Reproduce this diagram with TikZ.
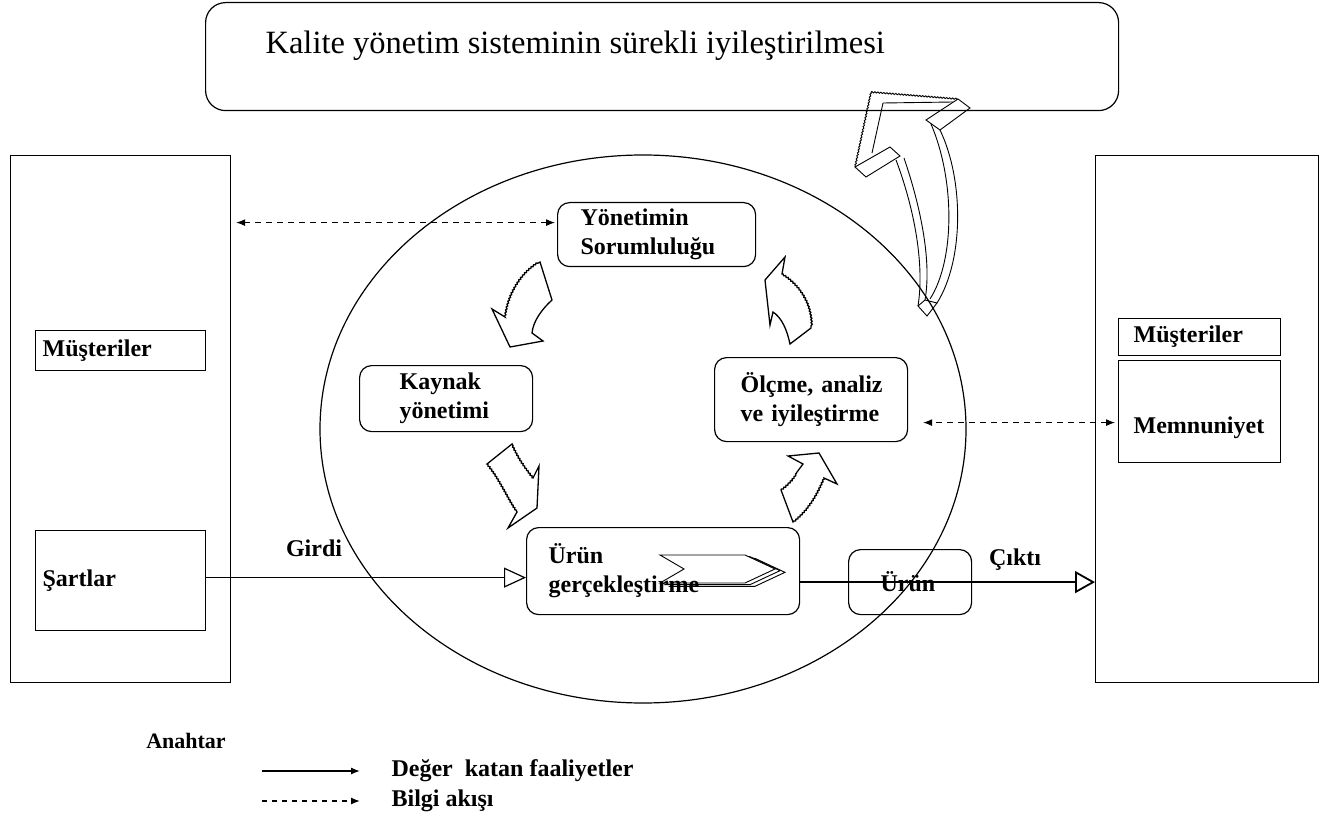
\documentclass[tikz,border=0pt]{standalone}
\usepackage{fontspec}
\setmainfont{Liberation Serif}
\usetikzlibrary{arrows.meta,calc,decorations.pathmorphing}

\begin{document}
\begin{tikzpicture}[x=1pt,y=-1pt,line width=1.2pt,
                    >={Latex[length=9pt,width=7pt]}]
  \tikzstyle{panel}=[draw,rectangle,anchor=north west,inner sep=0pt]
  \tikzstyle{flat}=[draw,rectangle,anchor=north west,align=left,inner ysep=0pt,
                    font=\fontsize{24}{29}\selectfont\bfseries]
  \tikzstyle{place}=[flat,rounded corners=12pt]
  \tikzstyle{lbl}=[font=\fontsize{24}{29}\selectfont\bfseries,inner sep=0pt]
  \tikzstyle{info}=[<->,dash pattern=on 6pt off 5pt,line width=1pt]
  \tikzstyle{wavy}=[decoration={snake,amplitude=0.6pt,segment length=3pt}]
  \tikzstyle{cyc}=[line width=1.3pt,line join=miter]

  \useasboundingbox (0,0) rectangle (1322,818);

  % top box
  \node[place,rounded corners=20pt,minimum width=913pt,minimum height=108pt] (kys) at (205,2) {};
  \node[font=\fontsize{32.5}{36}\selectfont,anchor=west,inner sep=0pt] (title) at (265,46)
       {Kalite yönetim sisteminin sürekli iyileştirilmesi};

  % side panels
  \node[panel,minimum width=220pt,minimum height=527pt] (left) at (10,155) {};
  \node[panel,minimum width=223pt,minimum height=527pt] (right) at (1095,155) {};

  \node[flat,text width=156pt,inner xsep=7pt,minimum height=40pt] (must1) at (35,330) {Müşteriler};
  \node[flat,text width=156pt,inner xsep=7pt,minimum height=100pt] (sart) at (35,530) {Şartlar};
  \node[flat,text width=132pt,inner xsep=15pt,minimum height=37pt] (must2) at (1118,318) {Müşteriler};
  \node[flat,text width=132pt,inner xsep=15pt,minimum height=102pt,text height=44pt,text depth=0pt]
       (memn) at (1118,360) {Memnuniyet};

  \draw (643,429) ellipse [x radius=323pt,y radius=274pt];

  % chevrons
  \foreach \d in {10,5,0}
    \draw[fill=white,line width=0.9pt] (660+\d,555+\d/3) -- ++(85,0) -- ++(30,14)
         -- ++(-30,14) -- ++(-85,0) -- ++(24,-14) -- cycle;

  % process boxes
  \node[place,text width=229pt,inner xsep=22pt,minimum height=87pt] (urun) at (526,527) {Ürün\\gerçekleştirme};
  \node[place,text width=152pt,inner xsep=23pt,minimum height=64pt] (yon) at (557,202) {Yönetimin\\Sorumluluğu};
  \node[place,text width=93pt,inner xsep=40pt,minimum height=66pt] (kay) at (359,365) {Kaynak\\yönetimi};
  \node[place,text width=141pt,inner xsep=26pt,minimum height=84pt] (olc) at (714,357) {Ölçme,~analiz\\ve~iyileştirme};
  \node[place,text width=59pt,inner xsep=32pt,minimum height=65pt] (urk) at (848,549) {Ürün};

  % cycle arrows
  \draw[cyc] (540,262) -- (552,300) .. controls (541,310) and (533,322) .. (532,333) -- (543,341)
       -- (510,347) -- (492,309) -- (505,317) decorate[wavy]{.. controls (508,293) and (522,272) .. (540,262)} -- cycle;
  \draw[cyc] (785,257) -- (782,274) decorate[wavy]{.. controls (800,285) and (812,305) .. (811,328)} -- (790,344)
       .. controls (787,330) and (782,318) .. (773,312) -- (770,325) -- (765,280) -- cycle;
  \draw[cyc] (512,444) -- (487,464) decorate[wavy]{.. controls (500,480) and (508,500) .. (517,512)} -- (508,528)
       -- (537,508) -- (539,466) -- (533,478) decorate[wavy]{.. controls (525,468) and (518,458) .. (512,444)} -- cycle;
  \draw[cyc] (788,456) -- (819,453) -- (837,484) -- (824,478) decorate[wavy]{.. controls (815,500) and (805,512) .. (793,522)}
       -- (781,490) decorate[wavy]{.. controls (788,485) and (794,478) .. (797,472)} -- (803,464) -- cycle;

  % improvement arrow
  \begin{scope}[line width=0.9pt]
    \draw (871,92) decorate[wavy]{-- (958,99)} -- (970,108) -- (940,130) -- (926,120) -- (958,99);
    \draw (883,103) -- (953,102);
    \draw (871,92) decorate[wavy]{-- (855,167)};
    \draw (883,103) -- (872,153);
    \draw (855,167) -- (890,147) -- (900,156) -- (866,177) -- cycle;
    \draw (904,158) .. controls (920,205) and (932,260) .. (925,300);
    \draw (896,160) .. controls (913,205) and (925,262) .. (918,306);
    \draw (940,130) .. controls (964,180) and (964,260) .. (937,303);
    \draw (931,124) .. controls (955,180) and (955,260) .. (930,299);
    \draw (918,306) -- (925,300) -- (937,303) -- (927,316) -- cycle;
  \end{scope}

  % flows
  \coordinate (ia) at ($(yon.west)+(-2,-12)$);
  \draw[info,shorten >=5pt] (ia) -- (ia -| left.east);
  \coordinate (ib) at ($(memn.west)+(-3,11)$);
  \draw[info,shorten >=15pt] (ib) -- (ib -| olc.east);
  \draw[line width=1.2pt,-{Triangle[open,length=22pt,width=20pt,line width=1.2pt]}]
       ([yshift=3pt]sart.east) -- ([yshift=3pt]sart.east -| urun.west);
  \draw[line width=2.6pt,-{Triangle[open,length=20pt,width=22pt,line width=1.8pt]}]
       (urun.east |- urk.center) -- (urk.center -| right.west);

  \node[lbl] (girdi) at (314,548) {Girdi};
  \node[lbl] (cikti) at (1015,560) {Çıktı};

  % key
  \node[lbl,font=\fontsize{22}{26}\selectfont\bfseries] (anahtar) at (186,741) {Anahtar};
  \node[lbl,anchor=west] (deger) at (391,771) {Değer\ \ katan faaliyetler};
  \node[lbl,anchor=west] (bilgi) at (391,801) {Bilgi akışı};
  \coordinate (ka) at (262,771);
  \coordinate (kb) at (262,801);
  \draw[->,line width=1.3pt] (ka) -- ([xshift=-31pt]deger.west);
  \draw[->,dash pattern=on 5pt off 5pt,line width=1.3pt] (kb) -- ([xshift=-31pt]bilgi.west);
\end{tikzpicture}
\end{document}
